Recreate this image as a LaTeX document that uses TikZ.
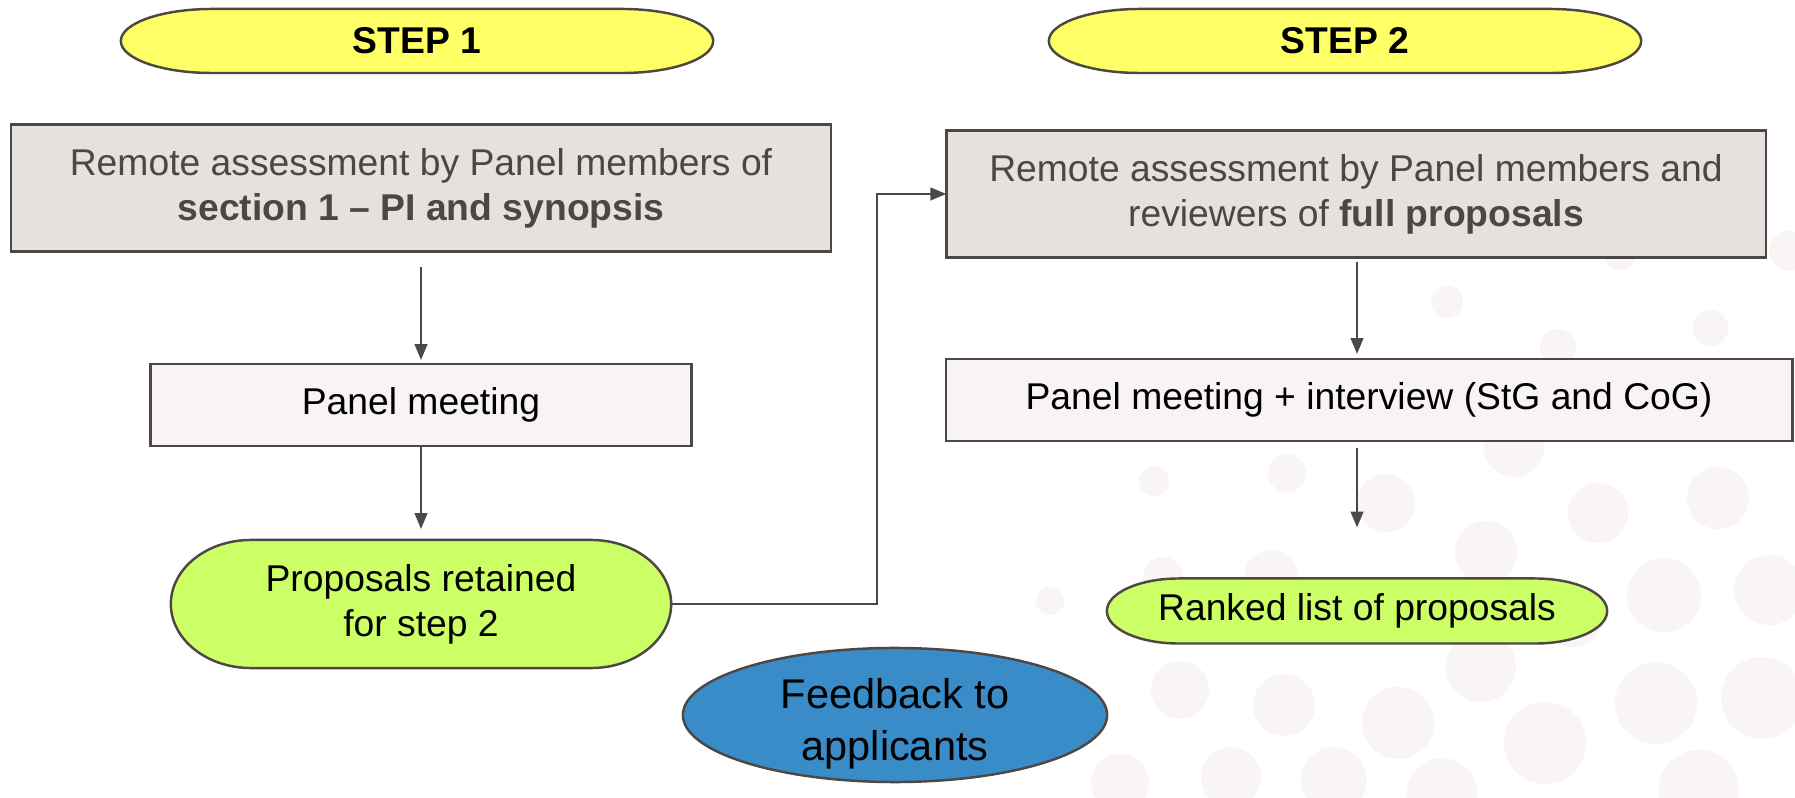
\documentclass[tikz,border=0pt]{standalone}
\usepackage{fontspec}
\setmainfont{Liberation Sans}
\usetikzlibrary{arrows.meta,shapes.geometric}

\definecolor{edgegray}{HTML}{4D4745}
\definecolor{textgray}{HTML}{4D4643}
\definecolor{stepyellow}{HTML}{FFFF66}
\definecolor{resultgreen}{HTML}{CCFF66}
\definecolor{remotefill}{HTML}{E6E1DE}
\definecolor{panelfill}{HTML}{F7F4F3}
\definecolor{feedblue}{HTML}{398CC8}
\definecolor{dotfill}{HTML}{F8F5F4}

\pgfdeclarelayer{background}
\pgfsetlayers{background,main}

% stadium outline behind a node: name, end radius, half height, fill
\newcommand{\stadium}[4]{%
  \filldraw[fill=#4, draw=edgegray, line width=0.7pt]
    ([xshift=#2]#1.north west) -- ([xshift=-#2]#1.north east)
    arc[start angle=90, end angle=-90, x radius=#2, y radius=#3]
    -- ([xshift=#2]#1.south west)
    arc[start angle=270, end angle=90, x radius=#2, y radius=#3] -- cycle;}

\begin{document}
\begin{tikzpicture}[x=0.01cm, y=-0.01cm,
    base/.style={draw=edgegray, line width=0.7pt, inner sep=0pt, outer sep=0pt, align=center,
      font=\fontsize{10.6}{12.8}\selectfont},
    steplabel/.style={base, draw=none, minimum width=5.92cm, minimum height=0.64cm,
      font=\fontsize{10.6}{12.8}\selectfont\bfseries},
    remote/.style={base, fill=remotefill, text=textgray,
      minimum width=8.19cm, minimum height=1.27cm},
    panel/.style={base, fill=panelfill, minimum height=0.82cm},
    result/.style={base, draw=none},
    feedback/.style={base, ellipse, fill=feedblue, minimum width=4.24cm, minimum height=1.34cm},
    flow/.style={draw=edgegray, line width=0.55pt, -{Triangle[length=4.5pt, width=3.6pt]}}]

  \useasboundingbox (0,0) rectangle (1795,798);

  \node[steplabel] (S1) at (417, 41) {STEP 1};
  \node[steplabel] (S2) at (1345, 41) {STEP 2};

  \node[remote] (A) at (421, 188) {Remote assessment by Panel members of\\ \textbf{section 1 -- PI and synopsis}};
  \node[panel, minimum width=5.41cm] (B) at (421, 405) {Panel meeting};
  \node[result, minimum width=5.0cm, minimum height=1.28cm] (C) at (421, 604) {Proposals retained\\ for step 2};

  \node[remote] (D) at (1356, 194) {Remote assessment by Panel members and\\ reviewers of \textbf{full proposals}};
  \node[panel, minimum width=8.46cm] (E) at (1369, 400) {Panel meeting + interview (StG and CoG)};
  \node[result, minimum width=5.0cm, minimum height=0.65cm] (F) at (1357, 611) {Ranked list of proposals};

  \node[feedback] (G) at (895, 715) {};
  \node[font=\fontsize{11.8}{14.8}\selectfont, align=center] (Gt) at ([yshift=-0.09cm]G.center) {Feedback to\\ applicants};

  \begin{pgfonlayer}{background}
    % faint dots in the background
    \foreach \cx/\cy/\r in {1447/302/0.16, 1710/328/0.18, 1558/347/0.18, 1514/447/0.30,
        1620/254/0.16, 1789/251/0.20, 1154/481/0.15, 1287/473/0.19, 1386/503/0.29,
        1598/513/0.30, 1718/498/0.31, 1486/552/0.31, 1664/595/0.37, 1769/590/0.35,
        1050/601/0.14, 1271/577/0.27, 1163/577/0.20, 1573/617/0.30, 1481/667/0.35,
        1180/690/0.29, 1284/705/0.31, 1398/723/0.36, 1545/743/0.41, 1656/703/0.41,
        1762/698/0.41, 1120/783/0.29, 1231/777/0.30, 1334/780/0.33, 1442/793/0.35,
        1699/790/0.40}
      \fill[dotfill] (\cx,\cy) circle[radius=\r cm];
    \stadium{S1}{0.91cm}{0.32cm}{stepyellow}
    \stadium{S2}{0.91cm}{0.32cm}{stepyellow}
    \stadium{C}{0.8cm}{0.64cm}{resultgreen}
    \stadium{F}{0.72cm}{0.325cm}{resultgreen}
  \end{pgfonlayer}

  \coordinate (K) at (877, 194);

  \draw[flow, shorten <=0.15cm, shorten >=0.04cm] (A.south) -- (B.north);
  \draw[flow, shorten >=0.11cm] (B.south) -- (C.north);
  \draw[flow] (C.east) -| (K) -- (D.west);
  \draw[flow, shorten <=0.04cm, shorten >=0.05cm] (F.north |- D.south) -- (F.north |- E.north);
  \draw[flow, shorten <=0.07cm, shorten >=0.51cm] (F.north |- E.south) -- (F.north);
\end{tikzpicture}
\end{document}
